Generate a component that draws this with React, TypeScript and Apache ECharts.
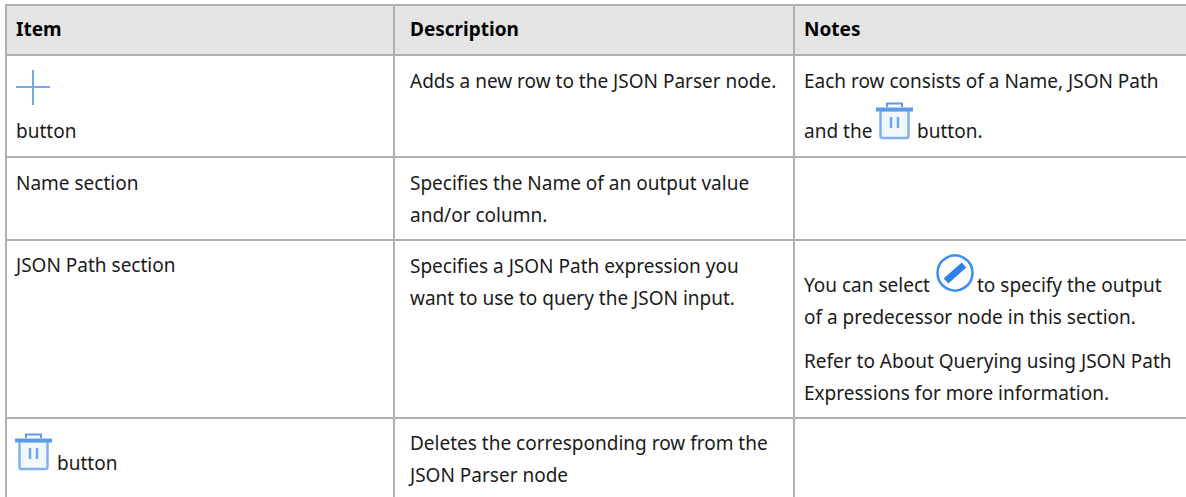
import React, { useEffect, useRef } from "react";
import * as echarts from "echarts";

const headers = ["Item", "Description", "Notes"];
const itemColumn = ["button", "Name section", "JSON Path section", "button"];
const descriptionColumn = [
  "Adds a new row to the JSON Parser node.",
  "Specifies the Name of an output value",
  "and/or column.",
  "Specifies a JSON Path expression you",
  "want to use to query the JSON input.",
  "Deletes the corresponding row from the",
  "JSON Parser node",
];
const notesColumn = [
  "Each row consists of a Name, JSON Path",
  "and the",
  "button.",
  "You can select",
  "to specify the output",
  "of a predecessor node in this section.",
  "Refer to About Querying using JSON Path",
  "Expressions for more information.",
];

const FONT = '"Noto Sans", sans-serif';
const FS = 19;
const INK = "#1a1a1a";
const LINE = "#b0b0b0";
const BLUE = "#5b9bea";

const txt = (s: string, x: number, y: number, bold = false) => ({
  type: "text",
  x,
  y,
  style: {
    text: s,
    fill: bold ? "#000000" : INK,
    font: `${bold ? 700 : 400} ${FS}px ${FONT}`,
    textVerticalAlign: "middle",
    verticalAlign: "middle",
  },
});
const hLine = (y: number) => ({
  type: "rect",
  shape: { x: 5, y: y - 1, width: 1181, height: 2 },
  style: { fill: LINE },
});
const vLine = (x: number, y1: number, y2: number) => ({
  type: "rect",
  shape: { x: x - 1, y: y1, width: 2, height: y2 - y1 },
  style: { fill: LINE },
});
const seg = (x1: number, y1: number, x2: number, y2: number, color: string, w: number) => ({
  type: "line",
  shape: { x1, y1, x2, y2 },
  style: { stroke: color, lineWidth: w, fill: "none" },
});
const trash = (x: number, y: number) => [
  {
    type: "rect",
    shape: { x: x + 4.5, y: y + 8, width: 28, height: 28, r: 2 },
    style: { fill: "#f2f7fe", stroke: "#7fb0ef", lineWidth: 2.5 },
  },
  seg(x, y + 7.5, x + 37, y + 7.5, BLUE, 4),
  seg(x + 11, y + 5, x + 11, y + 2, BLUE, 2),
  seg(x + 26, y + 5, x + 26, y + 2, BLUE, 2),
  seg(x + 10, y + 1.5, x + 27, y + 1.5, BLUE, 2),
  seg(x + 15, y + 15, x + 15, y + 26, "#6fa6ec", 2.5),
  seg(x + 22, y + 15, x + 22, y + 26, "#6fa6ec", 2.5),
];

export default function App() {
  const ref = useRef<HTMLDivElement>(null);
  useEffect(() => {
    document.body.style.margin = "0";
    const chart = echarts.init(ref.current!, undefined, { renderer: "svg" });
    const elements: any[] = [
      { type: "rect", shape: { x: 6, y: 5, width: 1180, height: 50 }, style: { fill: "#e4e4e4" } },
      hLine(5),
      hLine(55),
      hLine(157),
      hLine(240),
      hLine(418),
      vLine(6, 4, 497),
      vLine(394, 4, 497),
      vLine(794, 4, 497),
      txt(headers[0], 16, 29, true),
      txt(headers[1], 410, 29, true),
      txt(headers[2], 804, 29, true),
      seg(16, 87, 50, 87, "#76a9ea", 2),
      seg(33, 70, 33, 105, "#76a9ea", 2),
      txt(itemColumn[0], 16, 131),
      txt(itemColumn[1], 16, 183),
      txt(itemColumn[2], 16, 265),
      txt(itemColumn[3], 57, 463),
      txt(descriptionColumn[0], 410, 81),
      txt(descriptionColumn[1], 410, 183),
      txt(descriptionColumn[2], 410, 215),
      txt(descriptionColumn[3], 410, 266),
      txt(descriptionColumn[4], 410, 298),
      txt(descriptionColumn[5], 410, 443),
      txt(descriptionColumn[6], 410, 475),
      txt(notesColumn[0], 804, 81),
      txt(notesColumn[1], 804, 131),
      txt(notesColumn[2], 917, 131),
      txt(notesColumn[3], 804, 285),
      txt(notesColumn[4], 977, 285),
      txt(notesColumn[5], 804, 317),
      txt(notesColumn[6], 804, 361),
      txt(notesColumn[7], 804, 393),
      ...trash(876, 102),
      ...trash(15, 433),
      {
        type: "circle",
        shape: { cx: 955, cy: 273, r: 17.5 },
        style: { fill: "#ffffff", stroke: "#3d8df2", lineWidth: 2.5 },
      },
      seg(946, 281, 964, 265, "#2f80ee", 7),
    ];
    chart.setOption({ animation: false, graphic: { elements } });
    return () => chart.dispose();
  }, []);
  return <div ref={ref} style={{ width: 1186, height: 497, background: "#fff" }} />;
}
